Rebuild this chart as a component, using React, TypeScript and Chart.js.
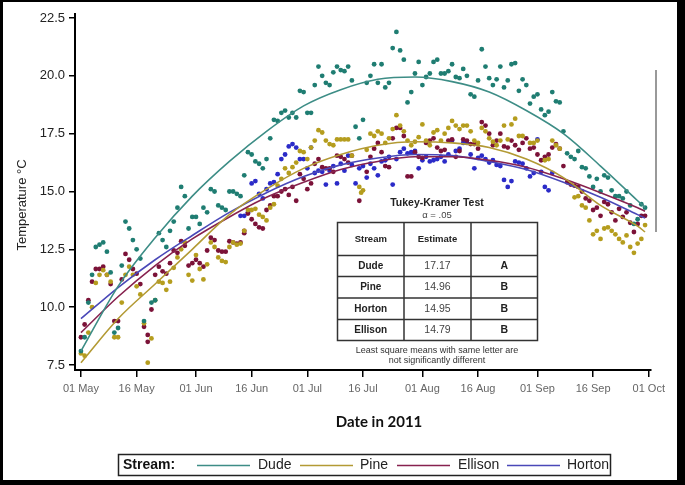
import React, { useEffect, useRef } from "react";
import { Chart, registerables } from "chart.js";
Chart.register(...registerables);

// ---- Axis ticks ----
const tickDays = [0, 15, 31, 46, 61, 76, 92, 107, 123, 138, 153];
const tickLabels = ["01 May", "16 May", "01 Jun", "16 Jun", "01 Jul", "16 Jul", "01 Aug", "16 Aug", "01 Sep", "16 Sep", "01 Oct"];
const yTicks = [7.5, 10, 12.5, 15, 17.5, 20, 22.5];

// ---- Streams ----
const streams = ["Dude", "Pine", "Ellison", "Horton"];

// Daily observations: [day since 01 May, temperature °C]
const dudeObs: number[][] = [
  [0, 8.1], [1, 8.7], [2, 10.2], [3, 11.4], [4, 12.6], [5, 12.7], [6, 12.8], [7, 12.4], [8, 11.5], [9, 8.9],
  [10, 9.1], [11, 11.8], [12, 13.7], [13, 13.4], [14, 12.9], [15, 12.5], [16, 12.1], [17, 9.4], [19, 10.2], [20, 10.3],
  [21, 13.2], [22, 12.9], [23, 12.6], [24, 13.3], [25, 13.7], [26, 14.3], [27, 15.2], [28, 14.8], [29, 13.4], [30, 13.9],
  [31, 13.9], [32, 13.6], [33, 14.3], [34, 14.1], [35, 15.1], [36, 15.0], [37, 14.4], [38, 14.3], [39, 14.2], [40, 15.0],
  [41, 15.0], [42, 14.9], [43, 14.8], [44, 15.7], [45, 16.7], [46, 16.6], [47, 16.3], [48, 16.2], [49, 16.0], [50, 16.4],
  [51, 17.3], [52, 18.1], [53, 18.05], [54, 18.4], [55, 18.5], [56, 18.2], [57, 18.4], [58, 18.2], [59, 19.35], [60, 19.3],
  [61, 18.4], [62, 18.4], [63, 19.6], [64, 20.4], [65, 20.0], [66, 19.7], [67, 19.6], [68, 20.15], [69, 20.4], [70, 20.25],
  [71, 20.2], [72, 20.4], [73, 19.8], [74, 17.8], [75, 17.3], [76, 18.1], [77, 19.7], [78, 20.0], [79, 20.5], [80, 19.7],
  [81, 20.5], [82, 19.5], [83, 19.7], [84, 21.2], [85, 21.9], [86, 21.1], [87, 20.7], [88, 18.85], [89, 19.3], [90, 20.1],
  [91, 20.6], [92, 19.6], [93, 19.95], [94, 20.1], [95, 20.6], [96, 20.7], [97, 20.1], [98, 20.1], [99, 20.2], [100, 20.5],
  [101, 19.95], [102, 19.9], [103, 20.3], [104, 20.0], [105, 19.2], [106, 19.1], [107, 19.8], [108, 21.15], [109, 20.4], [110, 19.9],
  [111, 19.6], [112, 19.85], [113, 20.4], [114, 19.5], [115, 19.8], [116, 20.5], [117, 20.55], [118, 19.35], [119, 19.85], [120, 19.6],
  [121, 18.8], [122, 19.1], [123, 19.2], [124, 18.55], [125, 18.3], [126, 18.45], [127, 19.3], [128, 18.9], [129, 18.85], [130, 17.6],
  [131, 16.65], [132, 16.5], [133, 16.4], [134, 16.75], [135, 16.05], [136, 16.0], [137, 15.65], [138, 15.2], [139, 15.55], [140, 15.0],
  [141, 15.7], [142, 15.6], [143, 15.05], [144, 14.8], [145, 14.8], [146, 14.7], [147, 15.0], [148, 14.4], [149, 13.6], [150, 13.8],
  [151, 14.45], [152, 14.3],
];

const pineObs: number[][] = [
  [0, 8.0], [1, 7.9], [2, 8.9], [3, 10.0], [4, 11.05], [5, 11.4], [6, 11.6], [7, 11.4], [8, 11.1], [9, 8.7],
  [10, 8.7], [11, 10.2], [12, 11.4], [13, 11.75], [14, 11.4], [15, 10.9], [16, 10.55], [17, 9.3], [18, 7.6], [19, 8.65],
  [20, 10.3], [21, 11.1], [22, 11.05], [23, 10.75], [24, 11.1], [25, 11.7], [26, 12.15], [27, 12.5], [28, 12.8], [29, 11.4],
  [30, 11.15], [31, 12.25], [32, 11.65], [33, 11.2], [34, 11.85], [35, 12.8], [36, 12.6], [37, 12.15], [38, 12.0], [39, 11.95],
  [40, 12.6], [41, 12.8], [42, 12.7], [43, 12.75], [44, 13.3], [45, 14.2], [46, 14.2], [47, 14.25], [48, 14.0], [49, 13.9],
  [50, 13.75], [51, 14.3], [52, 14.45], [53, 15.25], [54, 15.55], [55, 16.0], [56, 15.8], [57, 16.05], [58, 16.25], [59, 16.75],
  [60, 16.7], [61, 16.4], [62, 16.9], [63, 17.2], [64, 17.65], [65, 17.55], [66, 17.2], [67, 17.05], [68, 17.0], [69, 17.25],
  [70, 17.25], [71, 17.25], [72, 17.25], [73, 16.55], [75, 15.2], [75.5, 14.95], [76, 15.05], [77, 16.8], [78, 17.5], [79, 17.4],
  [80, 17.6], [81, 17.5], [82, 17.1], [83, 17.3], [84, 17.7], [85, 18.3], [86, 17.85], [87, 17.6], [88, 17.2], [89, 17.0],
  [90, 17.15], [91, 17.35], [92, 17.9], [93, 17.2], [94, 17.0], [95, 17.55], [96, 17.65], [97, 17.2], [98, 17.5], [99, 17.75],
  [100, 18.05], [101, 17.85], [102, 17.7], [103, 17.85], [104, 17.85], [105, 17.6], [106, 17.2], [107, 17.1], [108, 17.75], [109, 17.6],
  [110, 17.3], [111, 17.15], [112, 17.0], [113, 17.2], [114, 17.85], [115, 17.25], [116, 17.9], [117, 18.15], [118, 17.4], [119, 17.4],
  [121, 17.1], [122, 17.1], [123, 17.2], [125, 16.35], [126, 16.4], [127, 17.2], [128, 17.0], [129, 16.85], [133, 14.75], [134, 14.8],
  [135, 14.4], [136, 14.3], [137, 13.75], [138, 13.15], [139, 13.3], [140, 12.95], [141, 13.4], [142, 13.45], [143, 13.3], [144, 13.15],
  [145, 12.95], [146, 12.8], [147, 13.1], [148, 12.6], [149, 12.35], [150, 12.75], [151, 12.95], [152, 13.55],
];

const ellisonObs: number[][] = [
  [0, 8.7], [1, 9.25], [2, 10.3], [3, 11.1], [4, 11.65], [5, 11.65], [6, 11.75], [7, 11.4], [8, 11.0], [9, 9.4],
  [10, 9.4], [11, 11.2], [12, 12.3], [13, 12.05], [14, 11.65], [15, 11.45], [16, 11.0], [17, 9.15], [18, 8.8], [18, 8.5],
  [19, 9.9], [20, 11.4], [21, 11.75], [22, 11.55], [23, 11.45], [24, 11.9], [25, 12.45], [26, 12.35], [27, 12.85], [28, 12.65],
  [29, 11.8], [30, 11.9], [31, 12.05], [32, 11.9], [33, 11.75], [34, 12.45], [35, 13.0], [36, 12.9], [37, 12.45], [38, 12.4],
  [39, 12.4], [40, 12.85], [41, 12.8], [42, 12.75], [43, 12.8], [44, 13.2], [44, 13.3], [45, 14.05], [46, 13.8], [47, 13.6],
  [48, 13.45], [49, 13.4], [50, 14.2], [51, 14.4], [52, 14.8], [53, 14.8], [54, 15.0], [55, 15.1], [56, 14.85], [57, 15.2],
  [58, 14.6], [59, 15.75], [60, 15.55], [61, 15.1], [62, 15.35], [63, 16.2], [64, 16.4], [65, 16.05], [66, 16.0], [67, 16.0],
  [68, 15.85], [69, 16.55], [70, 16.5], [71, 16.4], [72, 16.25], [73, 16.55], [75, 14.6], [77, 15.85], [78, 16.5], [79, 16.85],
  [80, 17.1], [81, 16.7], [82, 16.1], [83, 16.05], [84, 17.3], [85, 17.75], [86, 17.75], [87, 17.4], [88, 15.65], [89, 15.65],
  [90, 16.7], [91, 16.5], [92, 16.45], [93, 17.1], [94, 17.2], [95, 17.3], [96, 16.9], [97, 16.75], [98, 16.8], [99, 17.2],
  [100, 17.25], [101, 16.5], [102, 16.75], [103, 17.25], [104, 17.2], [105, 17.05], [106, 17.05], [107, 16.85], [108, 18.0], [109, 17.85],
  [110, 17.5], [111, 17.0], [112, 17.2], [113, 17.5], [114, 16.95], [115, 16.9], [116, 17.2], [117, 17.0], [118, 16.8], [119, 17.1],
  [120, 17.3], [121, 16.85], [122, 16.9], [123, 16.6], [124, 16.35], [125, 16.5], [126, 16.6], [127, 16.9], [128, 17.05], [129, 16.85],
  [130, 16.1], [131, 15.4], [132, 15.3], [133, 15.25], [134, 15.2], [135, 15.0], [136, 14.7], [137, 14.6], [138, 14.2], [139, 14.3],
  [140, 13.95], [141, 14.55], [142, 14.45], [143, 14.1], [144, 13.75], [145, 14.25], [146, 13.9], [147, 14.1], [148, 13.65], [149, 13.25],
  [150, 13.6], [151, 13.95], [152, 13.95],
];

const hortonObs: number[][] = [
  [43, 13.95], [44, 13.95], [45, 14.1], [46, 15.35], [47, 15.45], [48, 14.9], [49, 14.7], [50, 15.1], [51, 15.35], [52, 15.4],
  [53, 15.75], [54, 16.4], [55, 16.6], [56, 16.95], [57, 17.05], [58, 16.9], [59, 16.4], [60, 16.4], [61, 16.0], [62, 16.9],
  [63, 15.8], [64, 15.9], [65, 15.85], [66, 15.3], [67, 15.9], [68, 16.1], [69, 15.35], [70, 16.2], [71, 15.9], [72, 16.55],
  [73, 16.15], [74, 15.35], [75, 16.0], [76, 16.1], [77, 15.6], [78, 16.2], [79, 16.0], [80, 15.7], [81, 16.3], [82, 16.35],
  [83, 16.5], [84, 15.3], [85, 16.4], [86, 16.7], [87, 16.85], [88, 16.65], [89, 16.7], [90, 16.75], [91, 16.0], [92, 16.35],
  [93, 16.5], [94, 16.3], [95, 16.35], [96, 16.4], [97, 16.5], [98, 16.3], [99, 16.6], [100, 17.2], [101, 16.75], [102, 16.85],
  [103, 17.1], [104, 17.1], [105, 16.6], [106, 16.0], [107, 16.45], [108, 16.55], [109, 16.4], [110, 16.25], [111, 16.35], [112, 16.15],
  [113, 16.1], [114, 15.5], [115, 15.2], [116, 15.45], [117, 16.3], [118, 16.25], [119, 16.2], [120, 16.0], [121, 15.65], [122, 15.8],
  [123, 17.25], [124, 15.85], [125, 15.2], [126, 15.05], [127, 15.8],
];

// Fitted curves read at knots
const fitDays = [0, 10, 20, 30, 40, 50, 60, 70, 80, 90, 100, 110, 120, 130, 140, 150, 152];
const dudeFit = [8.1, 10.9, 13.0, 14.8, 16.3, 17.6, 18.7, 19.4, 19.85, 19.95, 19.75, 19.3, 18.5, 17.5, 16.1, 14.6, 14.3];
const pineFit = [7.6, 9.5, 11.0, 12.5, 14.0, 15.1, 16.0, 16.6, 17.0, 17.15, 17.1, 16.9, 16.4, 15.6, 14.4, 13.5, 13.25];
const ellisonFit = [8.9, 10.45, 11.8, 12.95, 13.9, 14.75, 15.4, 15.95, 16.3, 16.5, 16.5, 16.35, 16.05, 15.55, 14.95, 14.3, 14.15];
const hortonFit = [9.5, 10.85, 12.05, 13.1, 14.1, 14.95, 15.65, 16.15, 16.45, 16.6, 16.55, 16.3, 15.95, 15.4, 14.75, 14.0, 13.85];

// Tukey-Kramer table
const tableStreams = ["Dude", "Pine", "Horton", "Ellison"];
const tableEstimates = ["17.17", "14.96", "14.95", "14.79"];
const tableLetters = ["A", "B", "B", "B"];

const pointColors = ["#1f7d72", "#b59d1e", "#7b1238", "#2b2bc8"];
const lineColors = ["#3d8d86", "#b39a34", "#87224f", "#4a48b8"];

const FONT = "'Liberation Sans', Arial, sans-serif";

const decorPlugin = {
  id: "decor",
  afterDraw(chart: any) {
    const ctx = chart.ctx as CanvasRenderingContext2D;
    ctx.save();
    // Axis titles
    ctx.fillStyle = "#222";
    ctx.font = `13px ${FONT}`;
    ctx.textAlign = "center";
    ctx.textBaseline = "middle";
    ctx.save();
    ctx.translate(22, 205);
    ctx.rotate(-Math.PI / 2);
    ctx.fillText("Temperature °C", 0, 0);
    ctx.restore();
    ctx.font = "bold 15px Lato, 'Liberation Sans', sans-serif";
    ctx.fillStyle = "#111";
    ctx.fillText("Date in 2011", 379, 422);

    // Table
    ctx.fillStyle = "#222";
    ctx.font = `bold 10.5px ${FONT}`;
    ctx.fillText("Tukey-Kramer Test", 437, 203);
    ctx.font = `9.5px ${FONT}`;
    ctx.fillStyle = "#444";
    ctx.fillText("\u03b1 = .05", 437, 215);
    const L = 337.5, R = 537.5, T = 222.5, B = 340.5;
    const vx = [404, 471];
    const hy = [255.5, 276.5, 298, 319.5];
    ctx.strokeStyle = "#333";
    ctx.lineWidth = 1.5;
    ctx.strokeRect(L, T, R - L, B - T);
    ctx.beginPath();
    vx.forEach((x) => { ctx.moveTo(x, T); ctx.lineTo(x, B); });
    hy.forEach((y) => { ctx.moveTo(L, y); ctx.lineTo(R, y); });
    ctx.stroke();
    const colC = [(L + vx[0]) / 2, (vx[0] + vx[1]) / 2, (vx[1] + R) / 2];
    ctx.fillStyle = "#222";
    ctx.font = `bold 9.5px ${FONT}`;
    ctx.fillText("Stream", colC[0], 239);
    ctx.fillText("Estimate", colC[1], 239);
    const rowY = [hy[0], hy[1], hy[2], hy[3], B];
    for (let i = 0; i < tableStreams.length; i++) {
      const cy = (rowY[i] + rowY[i + 1]) / 2;
      ctx.font = `bold 10px ${FONT}`;
      ctx.fillStyle = "#222";
      ctx.fillText(tableStreams[i], colC[0], cy);
      ctx.font = `10.5px ${FONT}`;
      ctx.fillStyle = "#444";
      ctx.fillText(tableEstimates[i], colC[1], cy);
      ctx.font = `bold 10.5px ${FONT}`;
      ctx.fillStyle = "#222";
      ctx.fillText(tableLetters[i], colC[2], cy);
    }
    ctx.font = `9px ${FONT}`;
    ctx.fillStyle = "#333";
    ctx.fillText("Least square means with same letter are", 437, 351);
    ctx.fillText("not significantly different", 437, 361);

    // Legend
    ctx.strokeStyle = "#222";
    ctx.lineWidth = 1.5;
    ctx.strokeRect(118.5, 454.5, 492, 21);
    ctx.textAlign = "left";
    ctx.fillStyle = "#111";
    ctx.font = `bold 14px ${FONT}`;
    ctx.fillText("Stream:", 123, 465.5);
    const lineX = [197, 300, 397, 507];
    const textX = [258, 360, 458, 567];
    ctx.font = `14px ${FONT}`;
    for (let i = 0; i < streams.length; i++) {
      ctx.strokeStyle = lineColors[i];
      ctx.lineWidth = 1.5;
      ctx.beginPath();
      ctx.moveTo(lineX[i], 465.5);
      ctx.lineTo(lineX[i] + 53, 465.5);
      ctx.stroke();
      ctx.fillStyle = "#222";
      ctx.fillText(streams[i], textX[i], 465.5);
    }

    // Outer frame
    ctx.fillStyle = "#000";
    ctx.fillRect(0, 0, 3, 485);
    ctx.fillRect(0, 0, 685, 2);
    ctx.fillRect(677, 0, 8, 485);
    ctx.fillRect(0, 480, 685, 5);
    ctx.strokeStyle = "#777";
    ctx.lineWidth = 1.5;
    ctx.beginPath();
    ctx.moveTo(656, 70);
    ctx.lineTo(656, 232);
    ctx.stroke();
    ctx.restore();
  },
};

export default function App() {
  const ref = useRef<HTMLCanvasElement>(null);
  useEffect(() => {
    document.body.style.margin = "0";
    document.body.style.background = "#fff";
    const toPts = (arr: number[][]) => arr.map(([x, y]) => ({ x, y }));
    const toFit = (vals: number[]) => vals.map((y, i) => ({ x: fitDays[i], y }));
    const obs = [dudeObs, pineObs, ellisonObs, hortonObs];
    const fits = [dudeFit, pineFit, ellisonFit, hortonFit];
    const datasets: any[] = [];
    fits.forEach((f, i) => {
      datasets.push({
        label: streams[i] + " fit",
        data: toFit(f),
        showLine: true,
        borderColor: lineColors[i],
        borderWidth: 1.6,
        pointRadius: 0,
        cubicInterpolationMode: "monotone",
        fill: false,
        order: 0,
      });
    });
    obs.forEach((o, i) => {
      datasets.push({
        label: streams[i],
        data: toPts(o),
        showLine: false,
        backgroundColor: pointColors[i],
        borderWidth: 0,
        pointRadius: 2.4,
        order: 1,
      });
    });
    const chart = new Chart(ref.current!, {
      type: "scatter",
      data: { datasets },
      options: {
        animation: false,
        responsive: false,
        layout: { padding: { left: 0, right: 34, top: 14, bottom: 0 } },
        plugins: { legend: { display: false }, tooltip: { enabled: false } },
        scales: {
          x: {
            type: "linear",
            min: -1.6,
            max: 153.6,
            afterFit: (s: any) => { s.height = 115; },
            afterBuildTicks: (s: any) => { s.ticks = tickDays.map((v) => ({ value: v })); },
            ticks: {
              autoSkip: false,
              maxRotation: 0,
              padding: 5,
              color: "#666",
              font: { family: FONT, size: 11 },
              callback: (v: any) => {
                const idx = tickDays.indexOf(Number(v));
                return idx >= 0 ? tickLabels[idx] : "";
              },
            },
            grid: { drawOnChartArea: false, drawTicks: true, tickLength: 7, color: "#000", lineWidth: 1.5 },
            border: { display: true, color: "#000", width: 2 },
          },
          y: {
            type: "linear",
            min: 7.284,
            max: 22.673,
            afterFit: (s: any) => { s.width = 75; },
            afterBuildTicks: (s: any) => { s.ticks = yTicks.map((v) => ({ value: v })); },
            ticks: {
              padding: 4,
              color: "#222",
              font: { family: FONT, size: 13 },
              callback: (v: any) => Number(v).toFixed(1),
            },
            grid: { drawOnChartArea: false, drawTicks: true, tickLength: 6, color: "#000", lineWidth: 1.5 },
            border: { display: true, color: "#000", width: 2 },
          },
        },
      },
      plugins: [decorPlugin],
    });
    return () => chart.destroy();
  }, []);
  return <canvas ref={ref} width={685} height={485} style={{ display: "block" }} />;
}
